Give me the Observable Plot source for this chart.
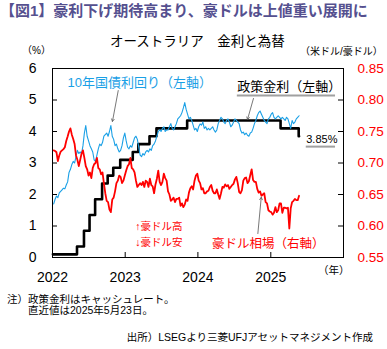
<!DOCTYPE html>
<html><head><meta charset="utf-8">
<script src="https://cdn.jsdelivr.net/npm/d3@7"></script>
<script src="https://cdn.jsdelivr.net/npm/@observablehq/plot@0.6"></script>
<style>
body{margin:0;background:#fff;font-family:"Liberation Sans","Noto Sans CJK JP",sans-serif;}
#wrap{position:relative;width:387px;height:349px;overflow:hidden;background:#fff}
.t{position:absolute;white-space:nowrap;line-height:1;font-family:"Liberation Sans","Noto Sans CJK JP",sans-serif}
#chart{position:absolute;left:0;top:0}
</style></head><body><div id="wrap">
<div id="chart"></div>
<div class="t" style="left:0;top:3px;font-size:15px;font-weight:bold;color:#55508f">【図1】豪利下げ期待高まり、豪ドルは上値重い展開に</div>
<div class="t" style="left:110px;top:35px;font-size:13.5px;color:#000">オーストラリア　金利と為替</div>
<div class="t" style="left:22px;top:46px;font-size:10px;color:#000">（%）</div>
<div class="t" style="left:300px;top:47px;font-size:10px;color:#000">（米ドル/豪ドル）</div>
<div class="t" style="left:318px;top:265px;font-size:10.5px;color:#000">（年）</div>
<div class="t" style="left:7px;top:294px;font-size:10.5px;color:#000">注）政策金利はキャッシュレート。</div>
<div class="t" style="left:28px;top:305px;font-size:10.5px;color:#000">直近値は2025年5月23日。</div>
<div class="t" style="right:14px;top:332px;font-size:10.5px;color:#000">出所）LSEGより三菱UFJアセットマネジメント作成</div>
</div>
<script>
// ---- data ----
const firstWeek = "2022-01-07"; // weekly (Friday) observations through 2025-05-23
const yield10y = [
  1.70,1.85,1.95,1.90, 2.05,2.10,2.15,2.20, 2.18,2.30,2.40,2.70, 2.80,2.95,3.05,3.00,3.20, 3.40,3.30,3.35,3.30,
  3.55,3.95,4.19,3.85, 3.70,3.55,3.45,3.35,3.10, 3.05,3.25,3.45,3.60, 3.55,3.65,3.85,3.90,3.95, 3.85,4.00,4.19,3.85,
  3.75,3.55,3.60,3.45, 3.35,3.40,3.55,3.80,3.95,
  3.70,3.50,3.45,3.55, 3.50,3.65,3.80,3.85, 3.75,3.50,3.25,3.20,3.30, 3.25,3.35,3.40,3.35, 3.45,3.40,3.55,3.60,
  3.70,3.85,4.00,4.05,4.00, 4.10,4.15,4.00,4.05, 4.05,4.15,4.25,4.10, 4.05,4.15,4.25,4.40,4.45, 4.50,4.60,4.75,4.92,
  4.70,4.55,4.40,4.45, 4.35,4.20,4.05,4.10,4.00,
  4.15,4.24,4.20,4.30, 4.10,4.15,4.05,4.10, 4.05,4.10,4.15,4.05,3.98, 4.05,4.25,4.35,4.45, 4.40,4.30,4.25,4.35,4.40,
  4.30,4.15,4.20,4.30, 4.40,4.35,4.30,4.25, 4.05,3.95,3.98,3.90,3.95, 3.88,3.85,3.95,3.98, 4.10,4.25,4.35,4.50,
  4.60,4.65,4.55,4.45,4.35, 4.30,4.25,4.40,4.45,
  4.55,4.60,4.45,4.40,4.45, 4.50,4.45,4.40,4.45, 4.40,4.35,4.45,4.40, 4.25,4.10,4.35,4.25, 4.30,4.40,4.45,4.50
];
const audusd = [
  0.720,0.719,0.717,0.703, 0.712,0.718,0.720,0.722, 0.725,0.735,0.742,0.750, 0.755,0.745,0.738,0.730,0.712, 0.705,0.695,0.705,0.715,
  0.720,0.708,0.695,0.690, 0.680,0.685,0.676,0.692,0.698, 0.700,0.708,0.692,0.690, 0.682,0.685,0.668,0.652,0.640, 0.638,0.626,0.622,0.642,
  0.645,0.655,0.668,0.672, 0.680,0.678,0.668,0.672,0.680,
  0.688,0.695,0.698,0.708, 0.692,0.690,0.685,0.672, 0.662,0.665,0.668,0.665,0.670, 0.662,0.672,0.670,0.662, 0.675,0.665,0.663,0.652,
  0.666,0.675,0.688,0.670,0.665, 0.670,0.683,0.676,0.672, 0.655,0.650,0.640,0.642, 0.645,0.638,0.643,0.643,0.645, 0.632,0.636,0.630,0.634,
  0.642,0.640,0.653,0.660, 0.663,0.658,0.672,0.680,0.683,
  0.672,0.668,0.658,0.660, 0.652,0.652,0.655,0.656, 0.662,0.665,0.656,0.652,0.652, 0.658,0.650,0.643,0.652, 0.662,0.661,0.666,0.663,0.665,
  0.659,0.662,0.665,0.667, 0.674,0.678,0.668,0.654, 0.652,0.657,0.672,0.676,0.677, 0.668,0.671,0.681,0.690, 0.673,0.670,0.670,0.659,
  0.653,0.655,0.648,0.650,0.652, 0.638,0.636,0.625,0.623,
  0.622,0.618,0.621,0.630,0.622, 0.625,0.636,0.636,0.621, 0.629,0.629,0.628,0.629, 0.596,0.628,0.638,0.640, 0.643,0.641,0.641,0.648
];
const policyDates = ["2022-01-03","2022-05-04","2022-06-08","2022-07-06","2022-08-03","2022-09-07","2022-10-05","2022-11-02","2022-12-07","2023-02-08","2023-03-08","2023-05-03","2023-06-07","2023-11-08","2025-02-19","2025-05-21","2025-05-23"];
const policyRates = [0.10,0.35,0.85,1.35,1.85,2.35,2.60,2.85,3.10,3.35,3.60,3.85,4.10,4.35,4.10,3.85,3.85];

const leftTicks = [0,1,2,3,4,5,6];
const rightTicks = [0.55,0.60,0.65,0.70,0.75,0.80,0.85];
const yearTicks = ["2022-01-01","2023-01-01","2024-01-01","2025-01-01"];

const annoText = ["10年国債利回り（左軸）","政策金利（左軸）","3.85%","↑豪ドル高","↓豪ドル安","豪ドル相場（右軸）"];
const annoDate = ["2022-03-17","2024-07-17","2025-06-28","2023-02-21","2023-02-21","2024-03-12"];
const annoY = [5.56,5.41,3.75,0.98,0.46,0.43];
const annoColor = ["#1aa0e6","#000000","#000000","#ff0000","#ff0000","#ff0000"];
const annoSize = [13,13,11,10.5,10.5,12.5];

const underFrom = ["2024-07-17","2025-06-28"];
const underTo = ["2025-11-22","2025-11-22"];
const underY = [5.14,3.52];

const arrowFromDate = ["2022-11-27","2024-10-06","2024-10-28"];
const arrowFromY = [5.30,5.05,0.76];
const arrowToDate = ["2022-10-29","2024-09-06","2024-11-14"];
const arrowToY = [4.32,4.38,1.91];

// ---- build ----
const P = s => new Date(s + "T00:00:00Z");
const rMin = 0.55, rStep = 0.05;
const toLeft = v => (v - rMin) / rStep; // right axis value -> left axis units
const start = P(firstWeek);
const weekDate = i => d3.utcDay.offset(start, 7 * i);
const yieldData = yield10y.map((v, i) => ({date: weekDate(i), v}));
const audData = audusd.map((v, i) => ({date: weekDate(i), v: toLeft(v)}));
const policyData = policyDates.map((d, i) => ({date: P(d), v: policyRates[i]}));
const annos = annoText.map((t, i) => ({t, date: P(annoDate[i]), y: annoY[i], c: annoColor[i], s: annoSize[i]}));
const unders = underFrom.map((d, i) => ({x1: P(d), x2: P(underTo[i]), y: underY[i]}));
const arrows = arrowFromDate.map((d, i) => ({x1: P(d), y1: arrowFromY[i], x2: P(arrowToDate[i]), y2: arrowToY[i]}));
const years = yearTicks.map(P);

const W = 387, H = 290, mL = 52, mR = 44, mT = 68, mB = 33;
const fw = W - mL - mR, fh = H - mT - mB;

const chart = Plot.plot({
  width: W, height: H,
  marginTop: mT, marginLeft: mL, marginRight: mR, marginBottom: mB,
  x: {type: "utc", domain: [P("2022-01-01"), P("2026-01-01")]},
  y: {domain: [0, 6]},
  style: {fontFamily: '"Liberation Sans","Noto Sans CJK JP",sans-serif', color: "#000", background: "transparent", overflow: "visible"},
  marks: [
    Plot.axisY({anchor: "left", ticks: leftTicks, tickSize: 0, tickPadding: 16, fontSize: 14, tickFormat: d => String(d), label: null}),
    Plot.axisY({anchor: "right", ticks: rightTicks.map(toLeft), tickSize: 0, tickPadding: 14, fontSize: 13.5, fill: "#ff0000",
      tickFormat: d => (rMin + d * rStep).toFixed(2), label: null}),
    Plot.axisX({ticks: years, tickSize: 0, tickPadding: 15, fontSize: 14, tickFormat: "%Y", label: null}),
    Plot.tickY(leftTicks, {y: d => d, insetRight: fw - 5, stroke: "#000"}),
    Plot.tickY(rightTicks.map(toLeft), {y: d => d, insetLeft: fw - 5, stroke: "#000"}),
    Plot.tickX(years, {x: d => d, insetTop: fh - 5, stroke: "#000"}),
    Plot.line(policyData, {x: "date", y: "v", curve: "step-after", stroke: "#000", strokeWidth: 2.6}),
    Plot.line(yieldData, {x: "date", y: "v", stroke: "#1aa0e6", strokeWidth: 1.1}),
    Plot.line(audData, {x: "date", y: "v", stroke: "#ff0000", strokeWidth: 1.8}),
    Plot.frame({stroke: "#000", strokeWidth: 1}),
    Plot.ruleY(unders, {y: "y", x1: "x1", x2: "x2", stroke: "#a0a0a0", strokeWidth: 2}),
    Plot.arrow(arrows, {x1: "x1", y1: "y1", x2: "x2", y2: "y2", stroke: "#555", strokeWidth: 0.8, headLength: 5}),
    ...annos.map(a => Plot.text([a], {x: "date", y: "y", text: "t", fill: a.c, fontSize: a.s, textAnchor: "start"}))
  ]
});
document.getElementById("chart").appendChild(chart);
</script>
</body></html>
